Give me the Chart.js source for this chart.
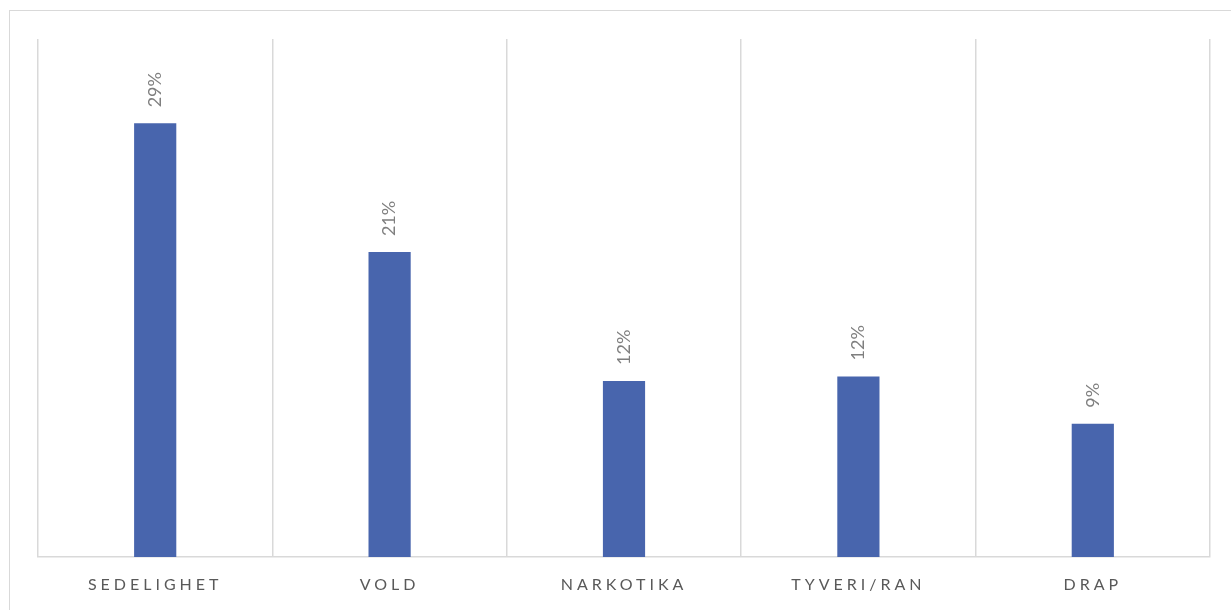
<!DOCTYPE html>
<html><head><meta charset="utf-8">
<script src="https://cdn.jsdelivr.net/npm/chart.js@4"></script>
<style>
html,body{margin:0;padding:0;background:#fff;overflow:hidden}
#wrap{position:relative;width:1231px;height:610px}
#frame{position:absolute;left:9px;top:10px;width:1240px;height:620px;border-top:1px solid #d9d9d9;border-left:1px solid #d9d9d9;box-sizing:border-box}
canvas{position:absolute;left:0;top:0}
</style></head>
<body><div id="wrap"><div id="frame"></div><canvas id="c" width="1231" height="610"></canvas></div>
<script>
const categories = ["SEDELIGHET", "VOLD", "NARKOTIKA", "TYVERI/RAN", "DRAP"];
const values = [29.3, 20.6, 11.9, 12.2, 9.0];
const labels = ["29%", "21%", "12%", "12%", "9%"];

const spacing = {
  id: 'spacing',
  beforeDraw(chart){ chart.ctx.letterSpacing = '4px'; },
  afterDatasetsDraw(chart){
    const ctx = chart.ctx;
    ctx.save();
    ctx.letterSpacing = '0px';
    ctx.fillStyle = '#7f7f7f';
    ctx.font = '18px Lato, "Open Sans", sans-serif';
    ctx.textAlign = 'left';
    ctx.textBaseline = 'middle';
    const meta = chart.getDatasetMeta(0);
    meta.data.forEach((bar, i) => {
      ctx.save();
      ctx.translate(bar.x, bar.y - 16);
      ctx.rotate(-Math.PI/2);
      ctx.fillText(labels[i], 0, 0);
      ctx.restore();
    });
    ctx.restore();
  }
};

new Chart(document.getElementById('c'), {
  type: 'bar',
  data: { labels: categories, datasets: [{ data: values, backgroundColor: '#4865ad', barPercentage: 0.9, categoryPercentage: 0.2 }] },
  options: {
    responsive: false, animation: false,
    devicePixelRatio: 1,
    layout: { padding: { left: 38, right: 21, top: 39, bottom: 17 } },
    plugins: { legend: { display: false }, tooltip: { enabled: false } },
    scales: {
      x: {
        offset: true,
        afterFit(scale){ scale.height = 36; },
        grid: { offset: true, color: '#d9d9d9', lineWidth: 1.5, drawTicks: false },
        border: { color: '#d9d9d9', width: 1.5 },
        ticks: { color: '#595959', padding: 18, font: { size: 16, family: 'Lato, "Open Sans", sans-serif' }, maxRotation: 0 }
      },
      y: { display: false, min: 0, max: 35 }
    }
  },
  plugins: [spacing]
});
</script></body></html>
